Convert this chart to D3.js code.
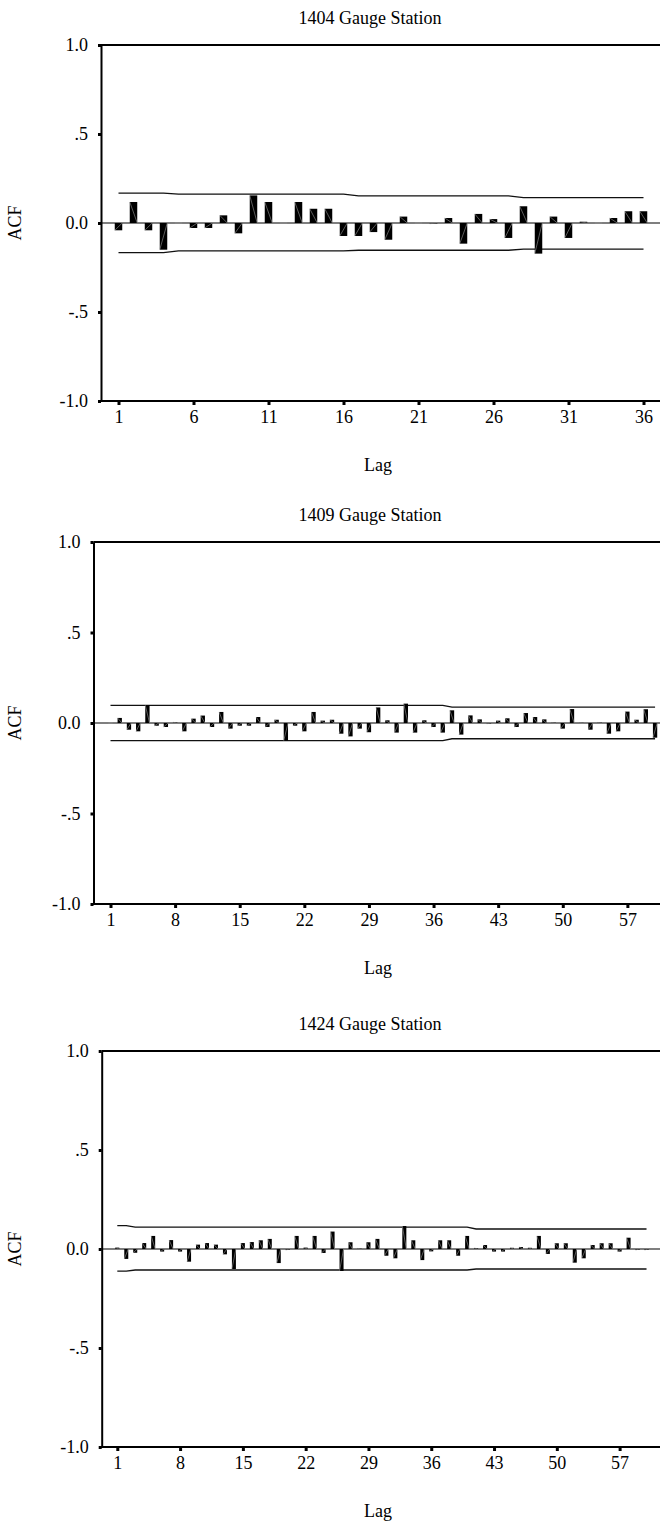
<!DOCTYPE html>
<html>
<head>
  <meta charset="UTF-8">
  <title>ACF</title>
  <script src="https://cdn.jsdelivr.net/npm/d3@7"></script>
  <style>
  body, html, svg{
    padding: 0;
    margin: 0;
  }
  body{
    background: #fff;
  }
  svg{
    display: block;
  }
  </style>
</head>
<body>
  <script type="text/javascript">
  // titles and axis labels
  var titles = ['1404 Gauge Station', '1409 Gauge Station', '1424 Gauge Station'];
  var yTicks = [-1, -0.5, 0, 0.5, 1];
  var yTickLabels = ['-1.0', '-.5', '0.0', '.5', '1.0'];

  // 1404: lags 1..36
  var xTicks1404 = [1, 6, 11, 16, 21, 26, 31, 36];
  var acf1404 = [-0.041, 0.118, -0.041, -0.150, 0.000, -0.028, -0.028, 0.043, -0.058, 0.155,
    0.118, 0.000, 0.118, 0.080, 0.080, -0.073, -0.073, -0.051, -0.094, 0.036,
    0.000, -0.004, 0.028, -0.116, 0.051, 0.022, -0.084, 0.094, -0.172, 0.036,
    -0.084, 0.007, 0.000, 0.028, 0.066, 0.066];
  var upper1404 = [0.168, 0.168, 0.168, 0.168,
    0.162, 0.162, 0.162, 0.162, 0.162, 0.162, 0.162, 0.162, 0.162, 0.162, 0.162, 0.162,
    0.152, 0.152, 0.152, 0.152, 0.152, 0.152, 0.152, 0.152, 0.152, 0.152, 0.152,
    0.142, 0.142, 0.142, 0.142, 0.142, 0.142, 0.142, 0.142, 0.142];
  var lower1404 = [-0.166, -0.166, -0.166, -0.166,
    -0.157, -0.157, -0.157, -0.157, -0.157, -0.157, -0.157, -0.157, -0.157, -0.157, -0.157, -0.157,
    -0.153, -0.153, -0.153, -0.153, -0.153, -0.153, -0.153, -0.153, -0.153, -0.153, -0.153,
    -0.147, -0.147, -0.147, -0.147, -0.147, -0.147, -0.147, -0.147, -0.147];

  // 1409: lags 1..60
  var xTicks1409 = [1, 8, 15, 22, 29, 36, 43, 50, 57];
  var acf1409 = [0.000, 0.028, -0.037, -0.046, 0.098, -0.015, -0.022, 0.004, -0.046, 0.024,
    0.041, -0.022, 0.061, -0.031, -0.015, -0.015, 0.033, -0.022, 0.018, -0.098,
    -0.015, -0.046, 0.061, 0.013, 0.018, -0.059, -0.074, -0.031, -0.051, 0.086,
    0.015, -0.053, 0.107, -0.053, 0.015, -0.022, -0.053, 0.070, -0.064, 0.042,
    0.020, -0.004, 0.013, 0.026, -0.022, 0.055, 0.033, 0.020, 0.003, -0.031,
    0.077, 0.002, -0.037, 0.003, -0.059, -0.046, 0.063, 0.018, 0.076, -0.081];
  var upper1409 = [0.097, 0.097, 0.097, 0.097, 0.097, 0.097, 0.097, 0.097, 0.097, 0.097,
    0.097, 0.097, 0.097, 0.097, 0.097, 0.097, 0.097, 0.097, 0.097, 0.097,
    0.097, 0.097, 0.097, 0.097, 0.097, 0.097, 0.097, 0.097, 0.097, 0.097,
    0.097, 0.097, 0.097, 0.097, 0.097, 0.097, 0.097, 0.088, 0.088, 0.088,
    0.088, 0.088, 0.088, 0.088, 0.088, 0.088, 0.088, 0.088, 0.088, 0.088,
    0.088, 0.088, 0.088, 0.088, 0.088, 0.088, 0.088, 0.088, 0.088, 0.088];
  var lower1409 = [-0.097, -0.097, -0.097, -0.097, -0.097, -0.097, -0.097, -0.097, -0.097, -0.097,
    -0.097, -0.097, -0.097, -0.097, -0.097, -0.097, -0.097, -0.097, -0.097, -0.097,
    -0.097, -0.097, -0.097, -0.097, -0.097, -0.097, -0.097, -0.097, -0.097, -0.097,
    -0.097, -0.097, -0.097, -0.097, -0.097, -0.097, -0.097, -0.087, -0.087, -0.087,
    -0.087, -0.087, -0.087, -0.087, -0.087, -0.087, -0.087, -0.087, -0.087, -0.087,
    -0.087, -0.087, -0.087, -0.087, -0.087, -0.087, -0.087, -0.087, -0.087, -0.087];

  // 1424: lags 1..60
  var xTicks1424 = [1, 8, 15, 22, 29, 36, 43, 50, 57];
  var acf1424 = [0.007, -0.050, -0.019, 0.030, 0.066, -0.013, 0.045, -0.013, -0.064, 0.022,
    0.030, 0.022, -0.027, -0.101, 0.030, 0.035, 0.044, 0.051, -0.071, -0.005,
    0.066, 0.007, 0.066, -0.020, 0.088, -0.111, 0.034, 0.003, 0.034, 0.051,
    -0.034, -0.047, 0.116, 0.044, -0.056, -0.012, 0.044, 0.044, -0.034, 0.066,
    0.005, 0.020, -0.013, -0.013, 0.006, 0.010, 0.006, 0.066, -0.025, 0.029,
    0.029, -0.069, -0.047, 0.020, 0.029, 0.029, -0.013, 0.057, -0.005, -0.005];
  var upper1424 = [0.118, 0.118, 0.110, 0.110, 0.110, 0.110, 0.110, 0.110, 0.110, 0.110,
    0.110, 0.110, 0.110, 0.110, 0.110, 0.110, 0.110, 0.110, 0.110, 0.110,
    0.110, 0.110, 0.110, 0.110, 0.110, 0.110, 0.110, 0.110, 0.110, 0.110,
    0.110, 0.110, 0.110, 0.110, 0.110, 0.110, 0.110, 0.110, 0.110, 0.110,
    0.101, 0.101, 0.101, 0.101, 0.101, 0.101, 0.101, 0.101, 0.101, 0.101,
    0.101, 0.101, 0.101, 0.101, 0.101, 0.101, 0.101, 0.101, 0.101, 0.101];
  var lower1424 = [-0.112, -0.112, -0.106, -0.106, -0.106, -0.106, -0.106, -0.106, -0.106, -0.106,
    -0.106, -0.106, -0.106, -0.106, -0.106, -0.106, -0.106, -0.106, -0.106, -0.106,
    -0.106, -0.106, -0.106, -0.106, -0.106, -0.106, -0.106, -0.106, -0.106, -0.106,
    -0.106, -0.106, -0.106, -0.106, -0.106, -0.106, -0.106, -0.106, -0.106, -0.106,
    -0.101, -0.101, -0.101, -0.101, -0.101, -0.101, -0.101, -0.101, -0.101, -0.101,
    -0.101, -0.101, -0.101, -0.101, -0.101, -0.101, -0.101, -0.101, -0.101, -0.101];

  var width = 660;
  var height = 1528;
  var font = '"Liberation Serif", "Times New Roman", serif';

  //画布
  var svg = d3.select('body')
    .append('svg')
    .attr('width', width)
    .attr('height', height);

  // layout of each panel
  var panels = [
    {title: titles[0], acf: acf1404, upper: upper1404, lower: lower1404, xTicks: xTicks1404,
     left: 101, top: 45, bottom: 401, first: 118.5, step: 15, barW: 7.5},
    {title: titles[1], acf: acf1409, upper: upper1409, lower: lower1409, xTicks: xTicks1409,
     left: 93.5, top: 542, bottom: 904, first: 110.5, step: 9.23, barW: 4.3},
    {title: titles[2], acf: acf1424, upper: upper1424, lower: lower1424, xTicks: xTicks1424,
     left: 101.7, top: 1051, bottom: 1447, first: 117.3, step: 8.97, barW: 4}
  ];

  panels.forEach(drawPanel);

  function drawPanel(p){
    var n = p.acf.length;
    var lags = d3.range(1, n + 1);
    var right = width;

    var x = d3.scaleLinear()
      .domain([1, n])
      .range([p.first, p.first + (n - 1) * p.step]);
    var y = d3.scaleLinear()
      .domain([-1, 1])
      .range([p.bottom, p.top]);

    var g = svg.append('g');

    //标题
    g.append('text')
      .attr('x', 370)
      .attr('y', p.top - 21)
      .attr('text-anchor', 'middle')
      .attr('font-family', font)
      .attr('font-size', 18)
      .text(p.title);

    // frame top line
    g.append('line')
      .attr('x1', p.left).attr('x2', right)
      .attr('y1', y(1)).attr('y2', y(1))
      .attr('stroke', '#000')
      .attr('stroke-width', 2);

    // zero line
    g.append('line')
      .attr('x1', p.left).attr('x2', right)
      .attr('y1', y(0)).attr('y2', y(0))
      .attr('stroke', '#000')
      .attr('stroke-width', 1.2);

    // confidence limits
    var line = d3.line()
      .x(function(d, i){ return x(lags[i]); })
      .y(function(d){ return y(d); });
    [p.upper, p.lower].forEach(function(arr){
      g.append('path')
        .attr('d', line(arr))
        .attr('fill', 'none')
        .attr('stroke', '#111')
        .attr('stroke-width', 1.3);
    });

    // bars
    var bars = g.append('g')
      .selectAll('g')
      .data(p.acf)
      .enter()
      .append('g');
    bars.append('rect')
      .attr('x', function(d, i){ return x(lags[i]) - p.barW / 2; })
      .attr('y', function(d){ return Math.min(y(d), y(0)); })
      .attr('width', p.barW)
      .attr('height', function(d){ return Math.abs(y(d) - y(0)); })
      .attr('fill', '#000');
    bars.append('line')
      .attr('x1', function(d, i){ return d >= 0 ? x(lags[i]) - p.barW / 2 : x(lags[i]) + p.barW / 2; })
      .attr('y1', function(d){ return d >= 0 ? y(d) : y(0); })
      .attr('x2', function(d, i){ return d >= 0 ? x(lags[i]) + p.barW / 2 : x(lags[i]) - p.barW / 2; })
      .attr('y2', function(d){ return d >= 0 ? y(0) : y(d); })
      .attr('stroke', '#999')
      .attr('stroke-width', 0.6);

    // y axis
    var yAxis = d3.axisLeft(y)
      .tickValues(yTicks)
      .tickSize(3)
      .tickSizeOuter(0)
      .tickPadding(10)
      .tickFormat(function(d, i){ return yTickLabels[i]; });
    var ya = g.append('g')
      .attr('transform', 'translate(' + p.left + ',0)')
      .call(yAxis);
    ya.select('.domain').attr('stroke-width', 2);
    ya.selectAll('.tick line').attr('stroke-width', 3);
    ya.selectAll('.tick text')
      .attr('font-family', font)
      .attr('font-size', 18);

    // x axis
    g.append('line')
      .attr('x1', p.left - 1).attr('x2', right)
      .attr('y1', p.bottom).attr('y2', p.bottom)
      .attr('stroke', '#000')
      .attr('stroke-width', 2);
    var xAxis = d3.axisBottom(x)
      .tickValues(p.xTicks)
      .tickSize(4)
      .tickSizeOuter(0)
      .tickPadding(5)
      .tickFormat(d3.format('d'));
    var xa = g.append('g')
      .attr('transform', 'translate(0,' + p.bottom + ')')
      .call(xAxis);
    xa.select('.domain').remove();
    xa.selectAll('.tick line').attr('stroke-width', 3);
    xa.selectAll('.tick text')
      .attr('font-family', font)
      .attr('font-size', 18);

    // axis titles
    g.append('text')
      .attr('x', 378)
      .attr('y', p.bottom + 70)
      .attr('text-anchor', 'middle')
      .attr('font-family', font)
      .attr('font-size', 18)
      .text('Lag');
    g.append('text')
      .attr('transform', 'translate(21,' + y(0) + ') rotate(-90)')
      .attr('text-anchor', 'middle')
      .attr('font-family', font)
      .attr('font-size', 18)
      .text('ACF');
  }
  </script>
</body>
</html>
